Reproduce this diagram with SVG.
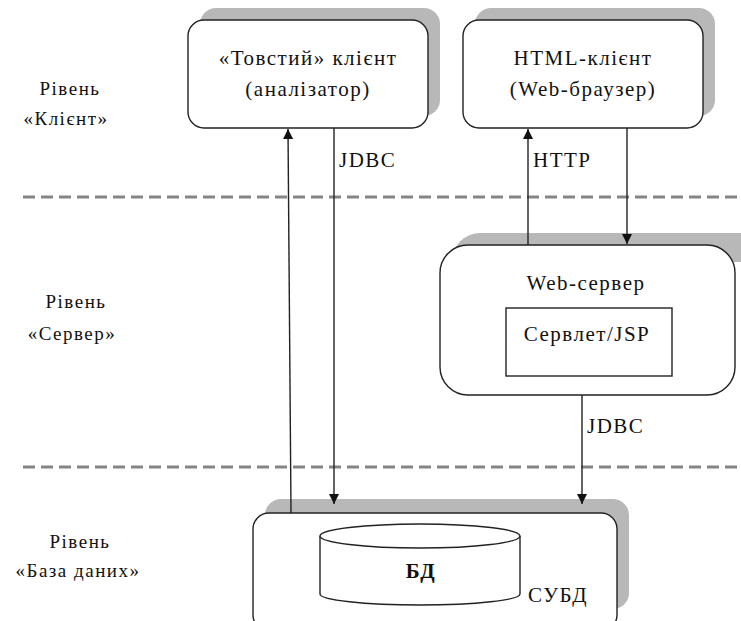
<svg xmlns="http://www.w3.org/2000/svg" width="741" height="621" viewBox="0 0 741 621">
<style>
.t{font-family:"Liberation Serif","Times New Roman",serif;font-size:21px;fill:#111;letter-spacing:1.5px}
.lbl{font-family:"Liberation Serif","Times New Roman",serif;font-size:19px;fill:#111;letter-spacing:1.5px;text-anchor:middle}
.box{fill:#fff;stroke:#222;stroke-width:1.4}
.sh{fill:#b8b8b8;stroke:none}
.ln{stroke:#222;stroke-width:1.4;fill:none}
.dash{stroke:#858585;stroke-width:3;stroke-dasharray:12 6;fill:none}
</style>
<defs>
<marker id="ah" markerWidth="10" markerHeight="10" refX="10" refY="5" orient="auto" markerUnits="userSpaceOnUse">
<path d="M0,0 L10,5 L0,10 Z" fill="#111"/>
</marker>
</defs>
<rect width="741" height="621" fill="#fff"/>
<g id="levels">
<line class="dash" x1="23" y1="197" x2="741" y2="197"/>
<line class="dash" x1="23" y1="467" x2="741" y2="467"/>
<text class="lbl" x="70" y="95">Рівень</text>
<text class="lbl" x="66" y="125">«Клієнт»</text>
<text class="lbl" x="76" y="308">Рівень</text>
<text class="lbl" x="72" y="340">«Сервер»</text>
<text class="lbl" x="80" y="548">Рівень</text>
<text class="lbl" x="78" y="577">«База даних»</text>
</g>
<g id="thick-client">
<rect class="sh" x="200" y="8" width="240" height="108" rx="16"/>
<rect class="box" x="188" y="20" width="240" height="108" rx="16"/>
<text class="t" x="308" y="65" text-anchor="middle">«Товстий» клієнт</text>
<text class="t" x="308" y="96" text-anchor="middle">(аналізатор)</text>
</g>
<g id="html-client">
<rect class="sh" x="475" y="8" width="240" height="108" rx="16"/>
<rect class="box" x="463" y="20" width="240" height="108" rx="16"/>
<text class="t" x="583" y="65" text-anchor="middle">HTML-клієнт</text>
<text class="t" x="583" y="96" text-anchor="middle">(Web-браузер)</text>
</g>
<g id="web-server">
<path class="sh" d="M452,261 A28,28 0 0 1 480,233 L741,233 L741,262 L452,262 Z"/>
<rect class="box" x="440" y="245" width="295" height="150" rx="28"/>
<text class="t" x="586" y="290" text-anchor="middle">Web-сервер</text>
<rect class="box" x="506" y="308" width="166" height="68" rx="0"/>
<text class="t" x="587" y="341" text-anchor="middle">Сервлет/JSP</text>
</g>
<g id="dbms">
<rect class="sh" x="265" y="499" width="364" height="110" rx="16"/>
<rect class="box" x="253" y="513" width="364" height="118" rx="16"/>
<path class="box" d="M320,536 L320,594 A100,11 0 0 0 520,594 L520,536"/>
<ellipse class="box" cx="420" cy="536" rx="100" ry="12"/>
<text class="t" x="421" y="578" text-anchor="middle" font-weight="bold">БД</text>
<text class="t" x="528" y="602" letter-spacing="1">СУБД</text>
</g>
<g id="connectors">
<line class="ln" x1="291" y1="513" x2="288" y2="129" marker-end="url(#ah)"/>
<line class="ln" x1="334" y1="128" x2="334" y2="504" marker-end="url(#ah)"/>
<line class="ln" x1="528" y1="245" x2="528" y2="129" marker-end="url(#ah)"/>
<line class="ln" x1="627" y1="128" x2="627" y2="244" marker-end="url(#ah)"/>
<line class="ln" x1="582" y1="395" x2="582" y2="504" marker-end="url(#ah)"/>
<text class="t" x="339" y="167">JDBC</text>
<text class="t" x="533" y="167">HTTP</text>
<text class="t" x="587" y="433">JDBC</text>
</g>
</svg>
